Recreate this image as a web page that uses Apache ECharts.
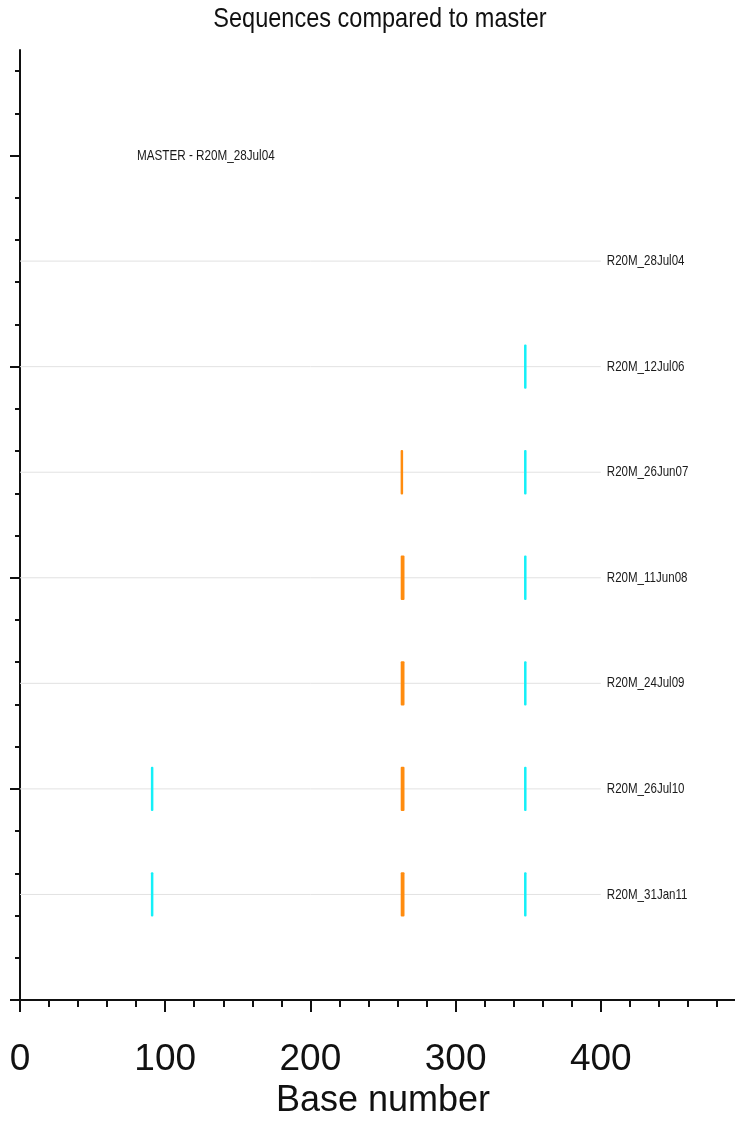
<!DOCTYPE html>
<html>
<head>
<meta charset="utf-8">
<title>Sequences compared to master</title>
<script src="https://cdn.jsdelivr.net/npm/echarts@6/dist/echarts.min.js"></script>
<style>
  html, body { margin: 0; padding: 0; background: #fff; }
  #chart { width: 735px; height: 1122px; }
</style>
</head>
<body>
<div id="chart"></div>
<script>
// sequences, top to bottom (row value = position on the y axis)
const seqNames = ["R20M_28Jul04", "R20M_12Jul06", "R20M_26Jun07", "R20M_11Jun08",
                  "R20M_24Jul09", "R20M_26Jul10", "R20M_31Jan11"];
const seqRows = [7, 6, 5, 4, 3, 2, 1];
const seqLength = 400;
const masterName = "MASTER - R20M_28Jul04";
const masterPos = [80.5, 8];

// mismatches vs master: [row, first base, last base]
const cyanMarks = [
    [6, 348, 348],
    [5, 348, 348],
    [4, 348, 348],
    [3, 348, 348],
    [2, 91, 91], [2, 348, 348],
    [1, 91, 91], [1, 348, 348]
];
const orangeMarks = [
    [5, 263, 263],
    [4, 263, 264],
    [3, 263, 264],
    [2, 263, 264],
    [1, 263, 264]
];

const xTickLabels = [0, 100, 200, 300, 400];
const yMajorTicks = [0, 2, 4, 6, 8];
const yMinorTicks = [0.4, 0.8, 1.2, 1.6, 2.4, 2.8, 3.2, 3.6, 4.4, 4.8, 5.2, 5.6,
                     6.4, 6.8, 7.2, 7.6, 8.4, 8.8];

const FONT = "'Liberation Sans', Arial, sans-serif";

const chart = echarts.init(document.getElementById('chart'));

// one grey line per sequence with its name on the right
function renderRow(params, api) {
    const row = api.value(0);
    const p0 = api.coord([0, row]);
    const p1 = api.coord([seqLength, row]);
    return {
        type: 'group',
        children: [{
            type: 'line',
            shape: { x1: p0[0], y1: p0[1], x2: p1[0], y2: p1[1] },
            style: { stroke: '#e2e2e2', lineWidth: 1 }
        }, {
            type: 'text',
            x: p1[0] + 6,
            y: p1[1],
            scaleX: 0.77,
            style: {
                text: seqNames[params.dataIndex],
                font: '15px ' + FONT,
                fill: '#1a1a1a',
                textVerticalAlign: 'middle'
            }
        }]
    };
}

function renderMaster(params, api) {
    const p = api.coord([api.value(0), api.value(1)]);
    return {
        type: 'text',
        x: p[0],
        y: p[1],
        scaleX: 0.78,
        style: {
            text: masterName,
            font: '15px ' + FONT,
            fill: '#1a1a1a',
            textVerticalAlign: 'middle'
        }
    };
}

function markRenderer(color) {
    return function (params, api) {
        const row = api.value(0);
        const a = api.coord([api.value(1), row + 0.21]);
        const b = api.coord([api.value(2), row - 0.21]);
        const nBases = api.value(2) - api.value(1) + 1;
        const w = 1.2 + 1.3 * nBases;
        return {
            type: 'rect',
            shape: { x: (a[0] + b[0]) / 2 - w / 2, y: a[1], width: w, height: b[1] - a[1], r: 1 },
            style: { fill: color }
        };
    };
}

const option = {
    backgroundColor: '#fff',
    animation: false,
    graphic: [{
        type: 'text',
        x: 380,
        y: 5,
        scaleX: 0.84,
        style: {
            text: 'Sequences compared to master',
            font: '28px ' + FONT,
            fill: '#111',
            textAlign: 'center',
            textVerticalAlign: 'top'
        }
    }],
    grid: { left: 20, width: 726, top: 50, bottom: 122, outerBoundsMode: 'none', containLabel: false },
    xAxis: {
        type: 'value',
        min: 0,
        max: 500,
        interval: 100,
        name: 'Base number',
        nameLocation: 'middle',
        nameGap: 81,
        nameTextStyle: { fontFamily: FONT, fontSize: 36, color: '#111' },
        axisLine: { show: true, onZero: false, lineStyle: { color: '#111', width: 2 } },
        axisTick: { show: true, length: 12, lineStyle: { color: '#111', width: 2 } },
        minorTick: { show: true, splitNumber: 5, length: 7, lineStyle: { color: '#111', width: 2 } },
        axisLabel: { fontFamily: FONT, fontSize: 37, color: '#111', margin: 41,
                     customValues: xTickLabels },
        splitLine: { show: false }
    },
    yAxis: [{
        type: 'value',
        min: 0,
        max: 9,
        axisLine: { show: true, onZero: false, lineStyle: { color: '#111', width: 2 } },
        axisTick: { show: true, length: 10, lineStyle: { color: '#111', width: 2 },
                    customValues: yMajorTicks },
        axisLabel: { show: false },
        splitLine: { show: false }
    }, {
        type: 'value',
        min: 0,
        max: 9,
        position: 'left',
        axisLine: { show: false },
        axisTick: { show: true, length: 5, lineStyle: { color: '#111', width: 2 },
                    customValues: yMinorTicks },
        axisLabel: { show: false },
        splitLine: { show: false }
    }],
    series: [{
        type: 'custom',
        name: 'rows',
        renderItem: renderRow,
        data: seqRows.map(r => [r]),
        encode: { y: 0 },
        silent: true,
        z: 1
    }, {
        type: 'custom',
        name: 'cyan',
        renderItem: markRenderer('#14f0f8'),
        data: cyanMarks,
        encode: { y: 0, x: [1, 2] },
        z: 3
    }, {
        type: 'custom',
        name: 'orange',
        renderItem: markRenderer('#ff8c0f'),
        data: orangeMarks,
        encode: { y: 0, x: [1, 2] },
        z: 3
    }, {
        type: 'custom',
        name: 'master',
        renderItem: renderMaster,
        data: [masterPos],
        encode: { x: 0, y: 1 },
        silent: true
    }]
};

chart.setOption(option);

window.addEventListener('resize', function () {
    chart.resize();
});
</script>
</body>
</html>
